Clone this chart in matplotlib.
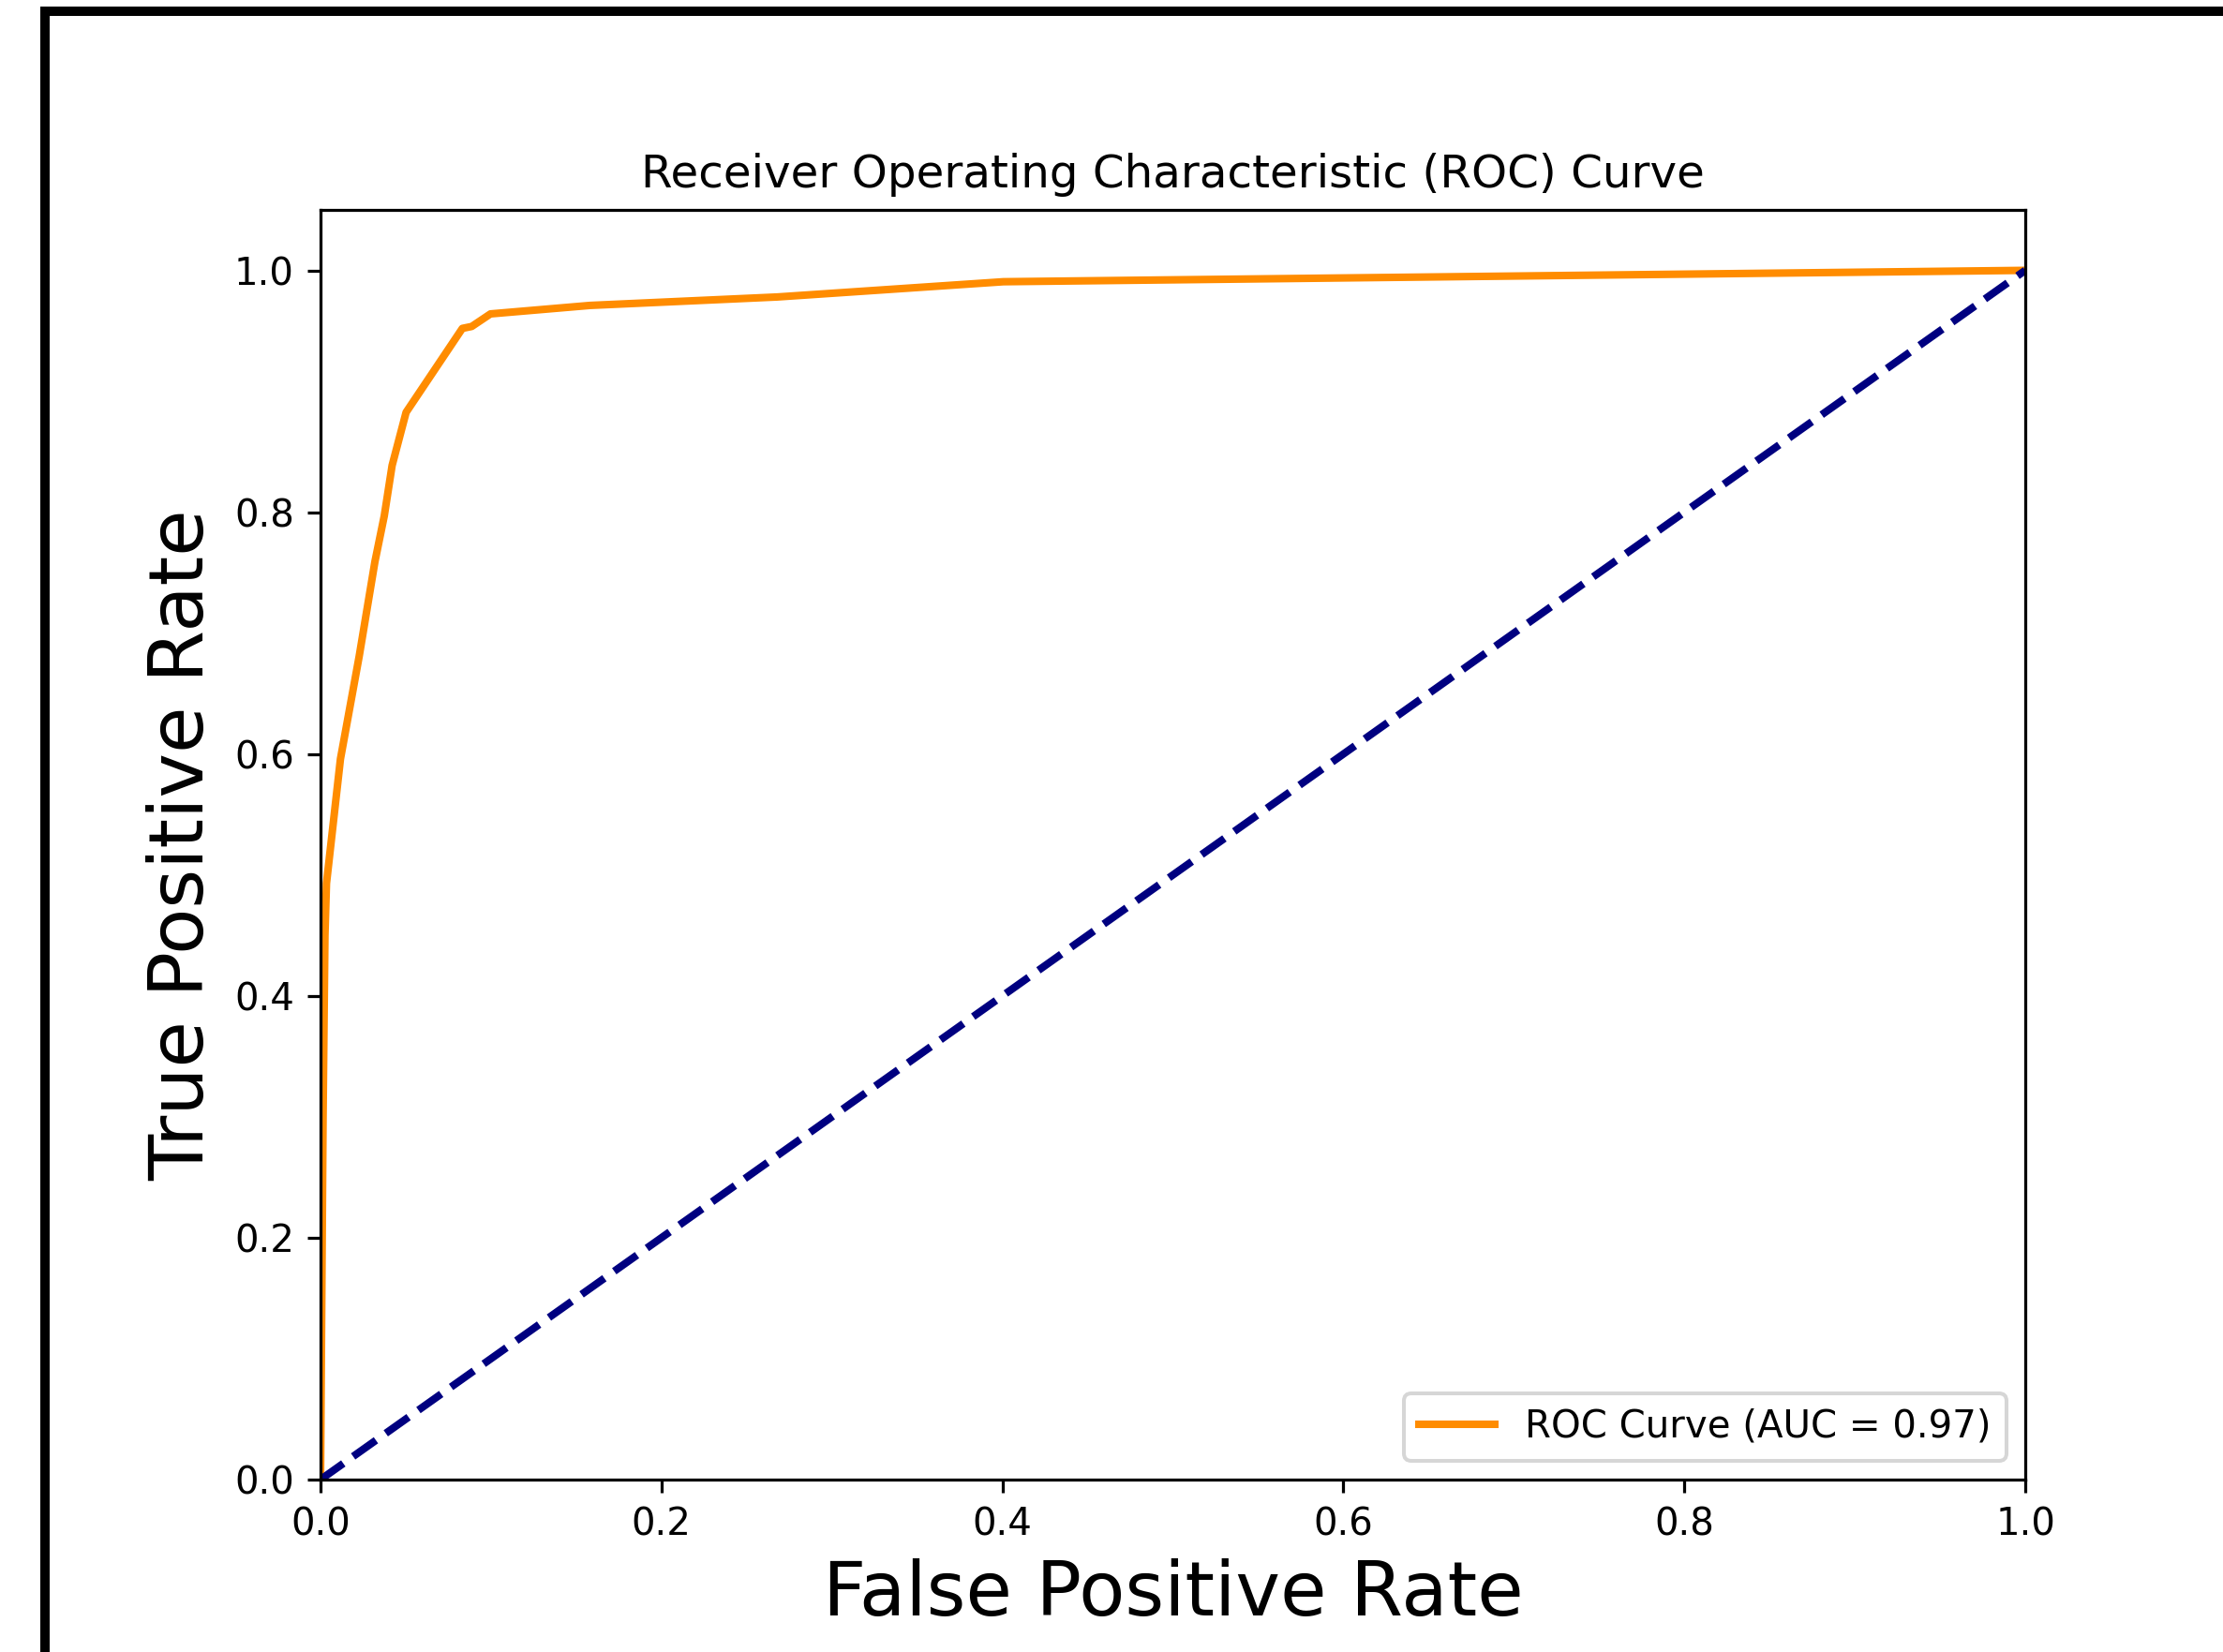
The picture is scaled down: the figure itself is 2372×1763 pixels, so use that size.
import matplotlib
matplotlib.use("Agg")
import matplotlib.pyplot as plt
from matplotlib.patches import Rectangle

# ROC curve points (false positive rate / true positive rate)
fpr = [0.0, 0.0015, 0.0026, 0.0035, 0.0117, 0.0227, 0.0319, 0.0374, 0.042,
       0.0502, 0.0832, 0.0887, 0.0997, 0.158, 0.268, 0.4006, 1.0]
tpr = [0.0, 0.30, 0.45, 0.493, 0.596, 0.681, 0.759, 0.797, 0.8387,
       0.8826, 0.952, 0.9536, 0.964, 0.971, 0.978, 0.9906, 1.0]
roc_auc = 0.97

# chance line
diag = [0, 1]

DPI = 290
fig = plt.figure(figsize=(2372 / DPI, 1763 / DPI), dpi=DPI)
ax = fig.add_axes([342 / 2372, 1 - 1579 / 1763,
                   (2161 - 342) / 2372, (1579 - 224) / 1763])

ax.plot(fpr, tpr, color="darkorange", lw=2,
        label="ROC Curve (AUC = %0.2f)" % roc_auc)
ax.plot(diag, diag, color="navy", lw=2, linestyle="--")
ax.set_xlim([0.0, 1.0])
ax.set_ylim([0.0, 1.05])
ax.set_xlabel("False Positive Rate", fontsize=20)
ax.set_ylabel("True Positive Rate", fontsize=20)
ax.set_title("Receiver Operating Characteristic (ROC) Curve")
ax.legend(loc="lower right")

# black frame around the window
frame = Rectangle((48 / 2372, -0.2), 2.0, 1.2 - 12 / 1763,
                  transform=fig.transFigure, fill=False,
                  edgecolor="black", lw=10 / DPI * 72, clip_on=False)
fig.patches.append(frame)

fig.savefig("out.png", dpi=DPI)
